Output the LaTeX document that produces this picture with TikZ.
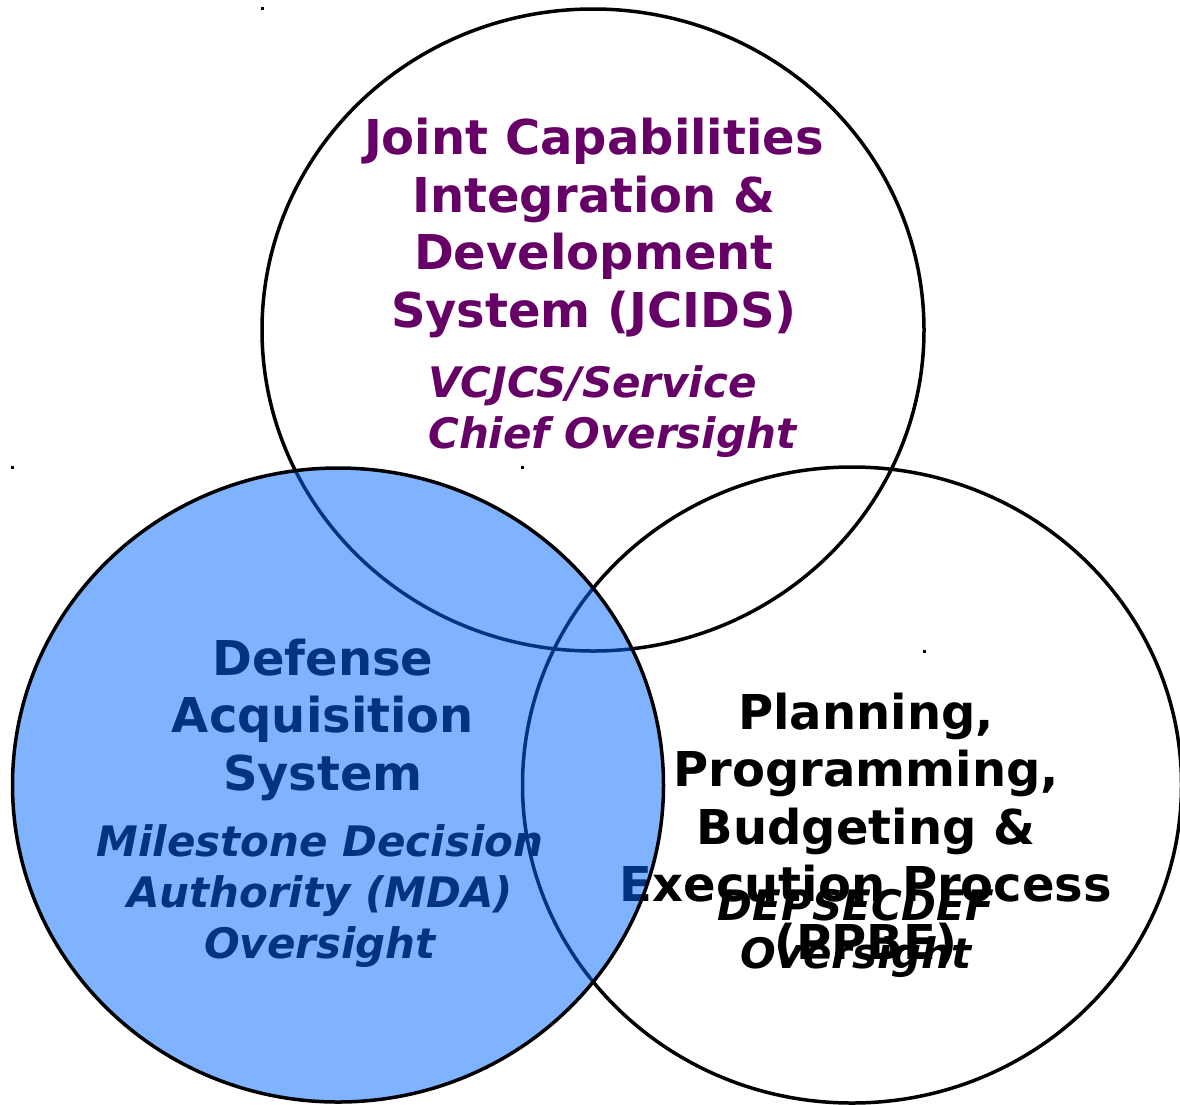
\documentclass[tikz,border=0pt]{standalone}
\usepackage{fontspec}
\setmainfont{DejaVu Sans}
\usetikzlibrary{shapes}

\definecolor{jcidspurple}{HTML}{660066}
\definecolor{dasblue}{HTML}{0066FF}

\begin{document}
\begin{tikzpicture}[x=1pt, y=-1pt,
		venn/.style={draw, shape=ellipse, line width=3.5pt, inner sep=0pt},
		title/.style={font=\bfseries\fontsize{48}{57.5}\selectfont, align=center, anchor=base, inner sep=0pt},
		over/.style={font=\bfseries\itshape\fontsize{42}{51}\selectfont, align=center, anchor=base, inner sep=0pt}]
		\useasboundingbox (0,0) rectangle (1180,1104);
		% the three circles
		\node (jcids) [venn, minimum width=662pt, minimum height=642pt] at (593,330) {};
		\node (ppbe)  [venn, minimum width=659pt, minimum height=636pt] at (852,785) {};
		% texts (placed at the baseline of the last line)
		\node (jt) [title, text=jcidspurple] at (594,327) {Joint Capabilities\\Integration \&\\Development\\System (JCIDS)};
		\node (jo) [over, text=jcidspurple, align=left, anchor=base west] at (428,448) {VCJCS/Service\\Chief Oversight};
		\node (pt) [title] at (866,959) {Planning,\\Programming,\\Budgeting \&\\Execution Process\\(PPBE)};
		\node (po) [over, font=\bfseries\itshape\fontsize{42}{48}\selectfont] at (856,968) {DEPSECDEF\\Oversight};
		\node (dt) [title] at (323,790) {Defense\\Acquisition\\System};
		\node (do) [over] at (320,958) {Milestone Decision\\Authority (MDA)\\Oversight};
		% blue circle on top
		\node (das) [venn, minimum width=651pt, minimum height=634pt, fill=dasblue, fill opacity=0.5] at (338,785) {};
		% corner marks
		\fill (261,7) rectangle (264,10);
		\fill (11,466) rectangle (14,469);
		\fill (521,466) rectangle (524,469);
		\fill (923,650) rectangle (926,653);
\end{tikzpicture}
\end{document}
